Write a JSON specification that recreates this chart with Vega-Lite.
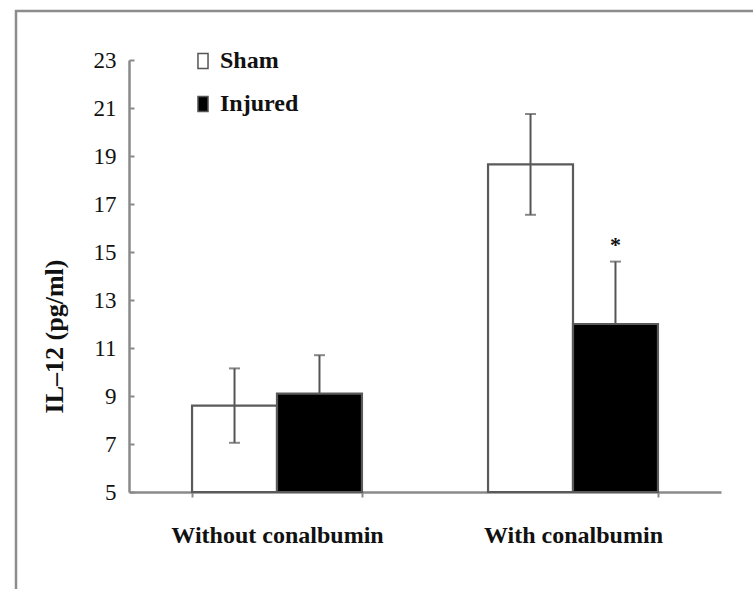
{
  "$schema": "https://vega.github.io/schema/vega-lite/v6.json",
  "autosize": {"type": "none"},
  "padding": {"left": 16, "top": 11, "right": 0, "bottom": 0},
  "width": 737,
  "height": 578,
  "background": "white",
  "config": {
    "font": "Liberation Serif",
    "view": {"stroke": "#8c8c8c", "strokeWidth": 2.5, "strokeDash": [737, 1315, 578]},
    "axis": {"grid": false, "domainColor": "#8a8a8a", "domainWidth": 2.5, "tickColor": "#8a8a8a", "tickWidth": 2, "labelColor": "#111", "titleColor": "#111", "labelLimit": 0}
  },
  "data": {
    "values": [
      {"condition": "Without conalbumin", "group": "Sham", "mean": 8.6, "lo": 7.05, "hi": 10.15, "sig": ""},
      {"condition": "Without conalbumin", "group": "Injured", "mean": 9.1, "lo": 7.5, "hi": 10.7, "sig": ""},
      {"condition": "With conalbumin", "group": "Sham", "mean": 18.65, "lo": 16.55, "hi": 20.75, "sig": ""},
      {"condition": "With conalbumin", "group": "Injured", "mean": 12.0, "lo": 9.4, "hi": 14.6, "sig": "*"}
    ]
  },
  "encoding": {
    "x": {
      "field": "condition", "type": "nominal", "sort": null,
      "scale": {"domain": ["Without conalbumin", "With conalbumin"], "range": [113, 705], "paddingInner": 0.426, "paddingOuter": 0.213},
      "axis": {"orient": "bottom", "offset": -97, "title": null, "labelAngle": 0, "labelFontSize": 24, "labelFontWeight": "bold", "labelPadding": 26, "tickBand": "extent", "tickSize": 5}
    },
    "xOffset": {"field": "group", "type": "nominal", "sort": ["Sham", "Injured"], "scale": {"domain": ["Sham", "Injured"], "paddingInner": 0, "paddingOuter": 0}}
  },
  "layer": [
    {
      "mark": {"type": "rule", "color": "#555", "strokeWidth": 2},
      "encoding": {
        "y": {"field": "lo", "type": "quantitative"},
        "y2": {"field": "hi"}
      }
    },
    {
      "mark": {"type": "tick", "color": "#555", "thickness": 2, "size": 11},
      "encoding": {"y": {"field": "lo", "type": "quantitative"}}
    },
    {
      "mark": {"type": "tick", "color": "#555", "thickness": 2, "size": 11},
      "encoding": {"y": {"field": "hi", "type": "quantitative"}}
    },
    {
      "mark": {"type": "bar", "stroke": "#5a5a5a", "strokeWidth": 2.2},
      "encoding": {
        "y": {
          "field": "mean", "type": "quantitative",
          "scale": {"domain": [5, 23], "range": [481, 49], "nice": false, "zero": false},
          "axis": {
            "orient": "left", "offset": -113, "values": [5, 7, 9, 11, 13, 15, 17, 19, 21, 23],
            "title": "IL–12 (pg/ml)", "titleFontSize": 26, "titleFontWeight": "bold",
            "titleX": -75, "titleY": 325, "titleAngle": -90, "titleAlign": "center", "titleBaseline": "middle",
            "labelFontSize": 23, "labelPadding": 18, "tickSize": -5
          }
        },
        "y2": {"datum": 5},
        "fill": {
          "field": "group", "type": "nominal",
          "scale": {"domain": ["Sham", "Injured"], "range": ["rgba(255,255,255,0)", "#000000"]},
          "legend": {
            "orient": "none", "legendX": 175, "legendY": 38, "title": null, "padding": 0,
            "symbolType": "M-0.67,-1H0.67V1H-0.67Z", "symbolSize": 225,
            "symbolStrokeColor": "#555", "symbolStrokeWidth": 1.5,
            "labelFontSize": 24, "labelFontWeight": "bold", "labelColor": "#111", "labelOffset": 5, "rowPadding": 19
          }
        }
      }
    },
    {
      "mark": {"type": "text", "fontSize": 22, "fontWeight": "bold", "color": "#111", "baseline": "alphabetic", "dy": -10},
      "encoding": {
        "y": {"field": "hi", "type": "quantitative"},
        "text": {"field": "sig"}
      }
    }
  ]
}
